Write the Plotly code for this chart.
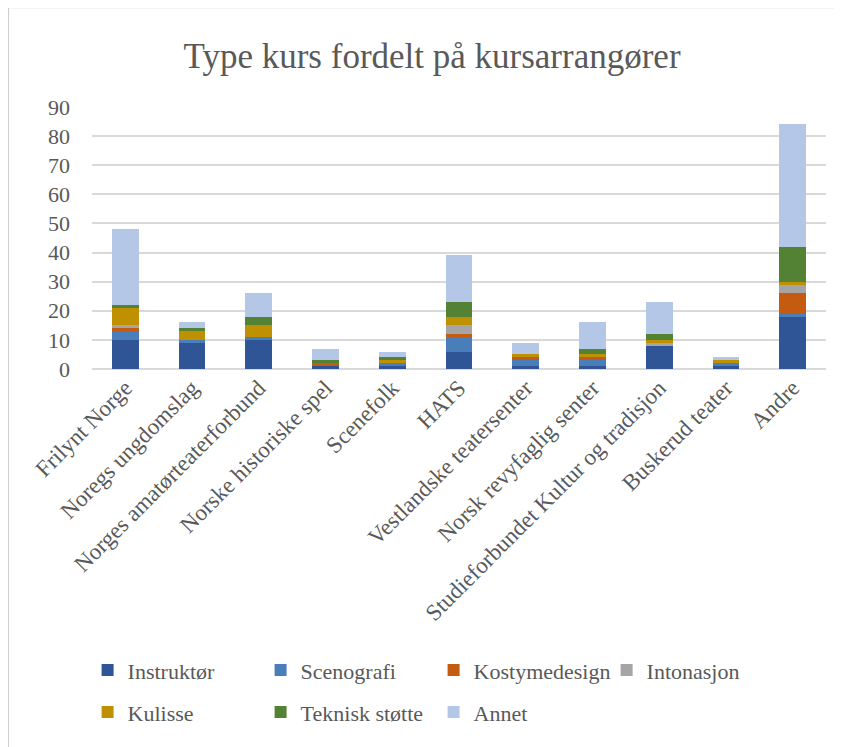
import plotly.graph_objects as go

arrangorer = ['Frilynt Norge', 'Noregs ungdomslag', 'Norges amatørteaterforbund',
              'Norske historiske spel', 'Scenefolk', 'HATS', 'Vestlandske teatersenter',
              'Norsk revyfaglig senter', 'Studieforbundet Kultur og tradisjon',
              'Buskerud teater', 'Andre']

instruktor = [10, 9, 10, 1, 1, 6, 1, 1, 8, 1, 18]
scenografi = [3, 1, 1, 0, 1, 5, 2, 2, 0, 1, 1]
kostymedesign = [1, 0, 0, 1, 0, 1, 1, 1, 0, 0, 7]
intonasjon = [1, 0, 0, 0, 0, 3, 0, 0, 1, 0, 3]
kulisse = [6, 3, 4, 0, 1, 3, 1, 1, 1, 1, 1]
teknisk = [1, 1, 3, 1, 1, 5, 0, 2, 2, 0, 12]
annet = [26, 2, 8, 4, 2, 16, 4, 9, 11, 1, 42]

serier = [
    ('Instruktør', instruktor, '#2F5597', 'legend'),
    ('Scenografi', scenografi, '#4A7EBB', 'legend'),
    ('Kostymedesign', kostymedesign, '#C55A11', 'legend'),
    ('Intonasjon', intonasjon, '#A5A5A5', 'legend'),
    ('Kulisse', kulisse, '#BF9000', 'legend2'),
    ('Teknisk støtte', teknisk, '#548235', 'legend2'),
    ('Annet', annet, '#B4C7E7', 'legend2'),
]

fnt = 'Liberation Serif, Times New Roman, serif'
grey = '#595959'

fig = go.Figure()
for navn, verdier, farge, leg in serier:
    fig.add_trace(go.Bar(x=arrangorer, y=verdier, name=navn, legend=leg,
                         marker=dict(color=farge, line=dict(width=0))))

legend_style = dict(orientation='h', xanchor='left', yanchor='middle',
                    entrywidth=128, entrywidthmode='pixels', traceorder='normal',
                    font=dict(size=22, color=grey, family=fnt), itemwidth=30)

fig.update_layout(
    barmode='stack',
    bargap=0.6,
    width=842, height=747,
    margin=dict(l=84, r=24, t=99, b=386),
    paper_bgcolor='white', plot_bgcolor='white',
    font=dict(family=fnt, color=grey, size=20),
    title=dict(text='Type kurs fordelt på kursarrangører', x=0.5036, xanchor='center',
               y=0.936, yanchor='middle', font=dict(size=35, color=grey, family=fnt)),
    legend=dict(x=-0.006, y=-1.15, **legend_style),
    legend2=dict(x=-0.006, y=-1.31, **legend_style),
    xaxis=dict(tickangle=-45, showgrid=False, showline=False, ticks='',
               tickfont=dict(size=23, color=grey), automargin=False),
    yaxis=dict(range=[0, 90], dtick=10, showgrid=True, gridcolor='#D9D9D9', gridwidth=2,
               zeroline=True, zerolinecolor='#D9D9D9', zerolinewidth=2,
               tickfont=dict(size=22, color=grey), ticklabelstandoff=21, automargin=False),
    shapes=[dict(type='rect', xref='paper', yref='paper', x0=-0.114, x1=1.021,
                 y0=-1.5, y1=1.38, line=dict(color='#CFCFCF', width=1.5),
                 fillcolor='rgba(0,0,0,0)', layer='below')],
)

fig.write_html('out.html')
